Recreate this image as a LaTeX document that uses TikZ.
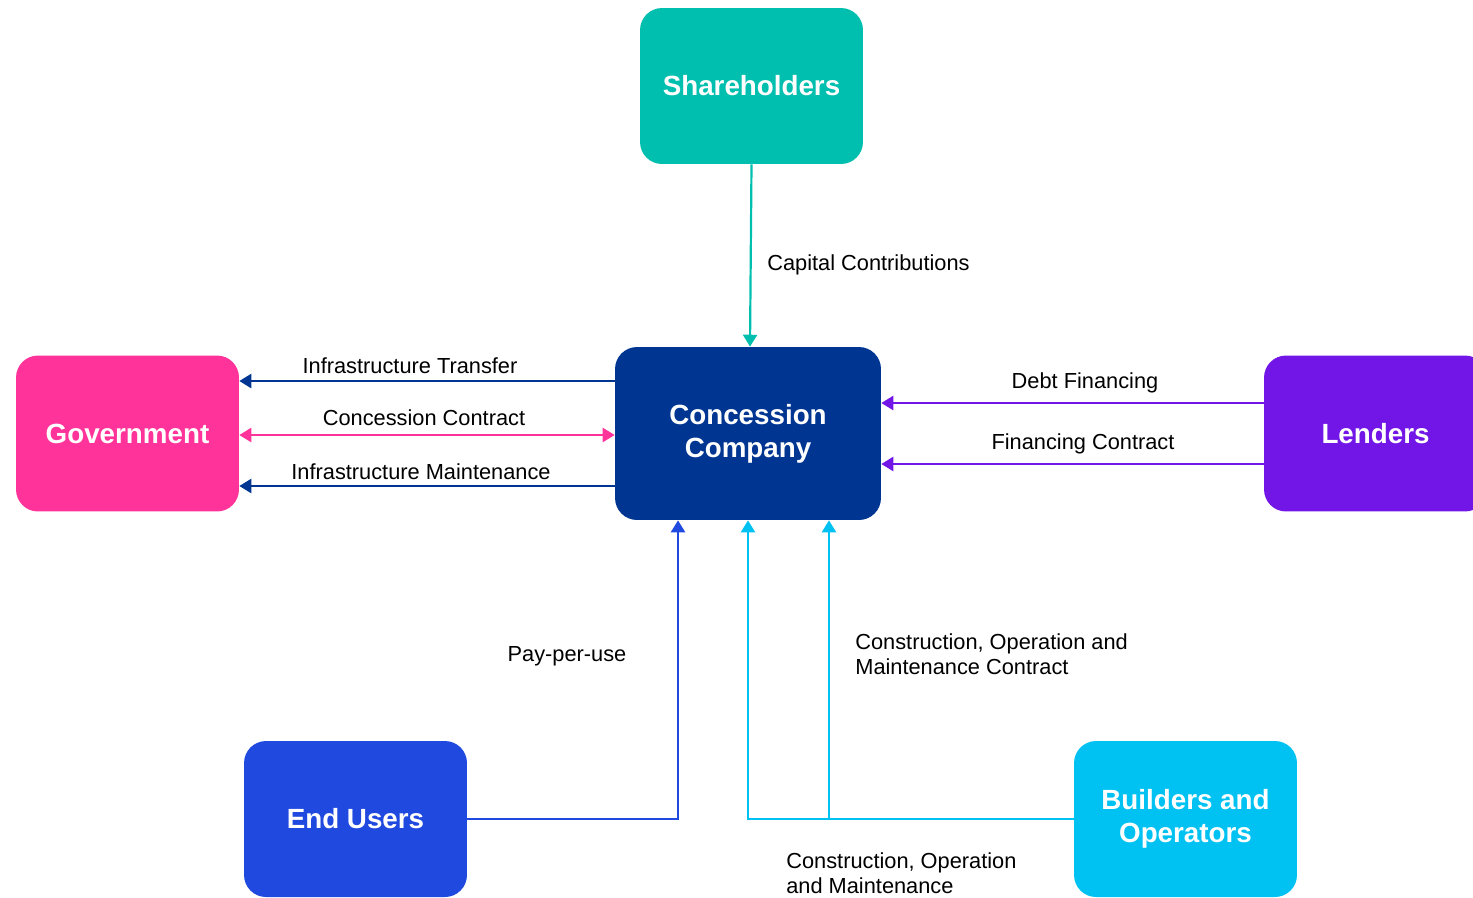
\documentclass[tikz,border=0pt]{standalone}
\usepackage{fontspec}
\setmainfont{Liberation Sans}
\usetikzlibrary{arrows.meta}

\definecolor{shcol}{RGB}{0,191,174}
\definecolor{cccol}{RGB}{0,53,145}
\definecolor{gvcol}{RGB}{255,51,153}
\definecolor{lncol}{RGB}{114,22,232}
\definecolor{eucol}{RGB}{32,73,224}
\definecolor{bocol}{RGB}{0,194,242}

\tikzset{
  party/.style={rectangle, rounded corners=0.44cm, minimum width=4.46cm,
    minimum height=3.12cm, text=white, align=center,
    font=\fontsize{15.8}{18.6}\selectfont\bfseries},
  flow/.style={line width=1.25pt, -{Triangle[length=6.8pt,width=8pt]}},
  twoway/.style={line width=1.25pt,
    {Triangle[length=6.8pt,width=8pt]}-{Triangle[length=6.8pt,width=8pt]}},
  lbl/.style={font=\fontsize{12.4}{14.4}\selectfont, inner sep=0pt, align=left}
}

\begin{document}
\begin{tikzpicture}[x=0.02cm, y=-0.02cm]

\useasboundingbox (0,0) rectangle (1473,897);
\clip (0,0) rectangle (1473,897);

% parties
\node[party, fill=shcol] (sh) at (751.5,86) {Shareholders};
\node[party, fill=cccol, minimum width=5.32cm, minimum height=3.46cm] (cc) at (748,433.5) {Concession\\Company};
\node[party, fill=gvcol] (gv) at (127.5,433.5) {Government};
\node[party, fill=lncol] (ln) at (1375.5,433.5) {Lenders};
\node[party, fill=eucol] (eu) at (355.5,819) {End Users};
\node[party, fill=bocol] (bo) at (1185.5,819) {Builders and\\Operators};

% flows
\draw[flow, shcol] (sh.south) -- ([xshift=0.04cm]cc.north);
\draw[flow, cccol] ([yshift=1.05cm]cc.west) -- ([yshift=1.05cm]gv.east);
\draw[twoway, gvcol] ([yshift=-0.03cm]cc.west) -- ([yshift=-0.03cm]gv.east);
\draw[flow, cccol] ([yshift=-1.05cm]cc.west) -- ([yshift=-1.05cm]gv.east);
\draw[flow, lncol] ([yshift=0.61cm]ln.west) -- ([yshift=0.61cm]cc.east);
\draw[flow, lncol] ([yshift=-0.61cm]ln.west) -- ([yshift=-0.61cm]cc.east);
\draw[flow, eucol] (eu.east) -| ([xshift=-1.4cm]cc.south);
\draw[flow, bocol] (bo.west) -| (cc.south);
\coordinate (bj) at ([xshift=1.62cm]cc.south |- bo.west);
\draw[flow, bocol] (bj) -- ([xshift=1.62cm]cc.south);

% labels
\node[lbl, anchor=west] (l1) at (767,265) {Capital Contributions};
\node[lbl] (l2) at (410,366) {Infrastructure Transfer};
\node[lbl] (l3) at (424,418) {Concession Contract};
\node[lbl] (l4) at (421,472) {Infrastructure Maintenance};
\node[lbl] (l5) at (1085,383) {Debt Financing};
\node[lbl] (l6) at (1083,444) {Financing Contract};
\node[lbl] (l7) at (567,656) {Pay-per-use};
\node[lbl, anchor=west] (l8) at (855,654) {Construction, Operation and\\Maintenance Contract};
\node[lbl, anchor=west] (l9) at (786,873) {Construction, Operation\\and Maintenance};

\end{tikzpicture}
\end{document}
